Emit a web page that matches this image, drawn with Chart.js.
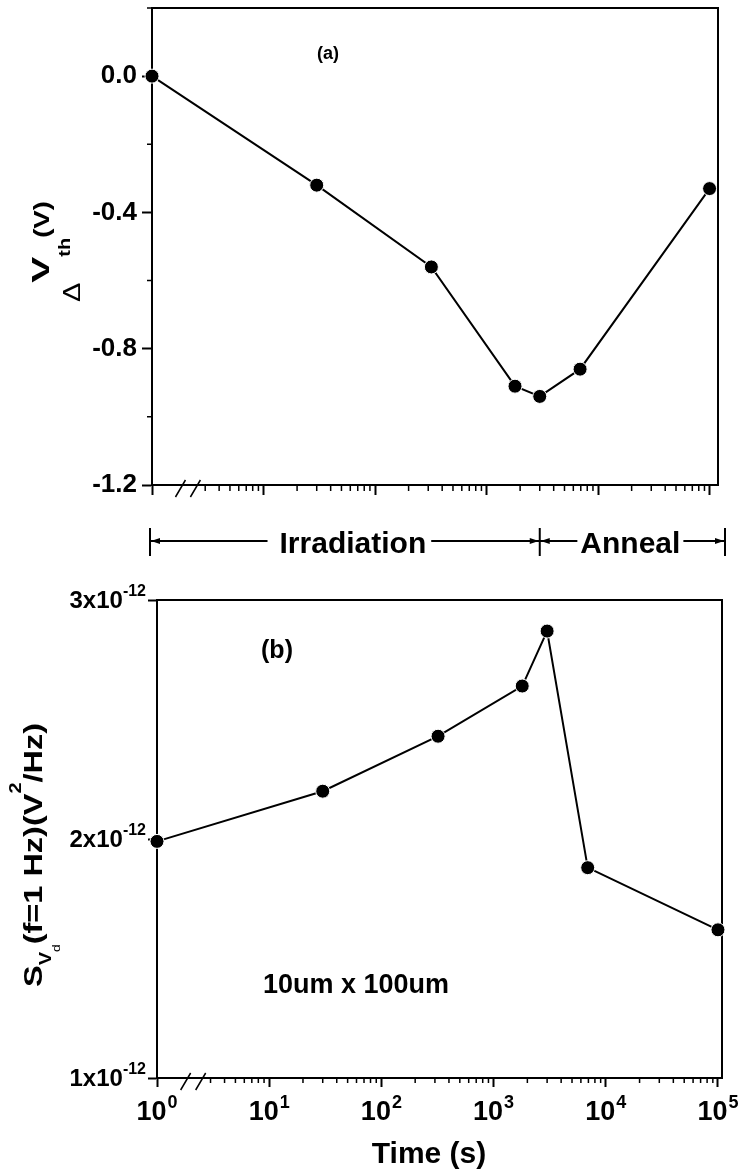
<!DOCTYPE html>
<html>
<head>
<meta charset="utf-8">
<script src="https://cdn.jsdelivr.net/npm/chart.js@4.4.1/dist/chart.umd.min.js"></script>
<style>
  html, body { margin: 0; padding: 0; background: #fff; }
  #wrap { position: relative; width: 739px; height: 1173px; }
  #top { position: absolute; left: 0; top: 0; }
  #bot { position: absolute; left: 0; top: 570px; }
</style>
</head>
<body>
<div id="wrap">
  <canvas id="top" width="739" height="570"></canvas>
  <canvas id="bot" width="739" height="603"></canvas>
</div>
<script>
// valores
const tiempos = [1, 30, 320, 1800, 3000, 6900, 100000];           // s
const deltaVth = [0.0, -0.32, -0.56, -0.91, -0.94, -0.86, -0.33];  // V
const ruido = [1.99e-12, 2.2e-12, 2.43e-12, 2.64e-12, 2.87e-12, 1.88e-12, 1.62e-12]; // V^2/Hz
const ticksX = [1, 10, 100, 1000, 10000, 100000];
const ticksVth = [-1.2, -0.8, -0.4, 0.0];
const menoresVth = [-1.0, -0.6, -0.2, 0.2];
const ticksRuido = [1e-12, 2e-12, 3e-12];

const F = '"Liberation Sans", Arial, sans-serif';
Chart.defaults.font.family = F;
Chart.defaults.color = '#000';

// texto girado 90 grados, sube desde yInicio
function textoVertical(ctx, yInicio, partes) {
    let y = yInicio;
    partes.forEach(p => {
        ctx.save();
        ctx.font = p.font;
        const w = ctx.measureText(p.t).width * p.s;
        ctx.translate(p.x, y);
        ctx.rotate(-Math.PI / 2);
        ctx.scale(p.s, 1);
        ctx.textAlign = 'left';
        ctx.textBaseline = 'alphabetic';
        ctx.fillStyle = '#000';
        ctx.fillText(p.t, 0, 0);
        ctx.restore();
        y -= w;
    });
}

function marco(ctx, a) {
    ctx.save();
    ctx.strokeStyle = '#000';
    ctx.lineWidth = 2;
    ctx.beginPath();
    ctx.moveTo(a.left, a.top);
    ctx.lineTo(a.right, a.top);
    ctx.lineTo(a.right, a.bottom);
    ctx.stroke();
    ctx.restore();
}

function menoresLog(ctx, sx, largo) {
    ctx.save();
    ctx.strokeStyle = '#000';
    ctx.lineWidth = 1.5;
    ctx.beginPath();
    for (let n = 0; n < 6; n++) {
        for (let k = 2; k < 10; k++) {
            const v = k * Math.pow(10, n);
            if (v < 2.5 || v > sx.max) continue;
            const x = sx.getPixelForValue(v);
            ctx.moveTo(x, sx.top);
            ctx.lineTo(x, sx.top + largo);
        }
    }
    ctx.stroke();
    // marcas de corte //
    ctx.beginPath();
    [1.8, 2.45].forEach(v => {
        const x = sx.getPixelForValue(v);
        ctx.moveTo(x - 5, sx.top + 12);
        ctx.lineTo(x + 5, sx.top - 5);
    });
    ctx.stroke();
    ctx.restore();
}

function flecha(ctx, x, y, dir) {
    ctx.beginPath();
    ctx.moveTo(x, y);
    ctx.lineTo(x - dir * 9, y - 3);
    ctx.lineTo(x - dir * 9, y + 3);
    ctx.closePath();
    ctx.fill();
}

const extrasArriba = {
    id: 'extrasArriba',
    beforeDatasetsDraw(chart) {
        const ctx = chart.ctx, a = chart.chartArea, sy = chart.scales.y;
        marco(ctx, a);
        menoresLog(ctx, chart.scales.x, 6);
        ctx.save();
        ctx.strokeStyle = '#000';
        ctx.lineWidth = 1.5;
        ctx.beginPath();
        menoresVth.forEach(v => {
            const y = sy.getPixelForValue(v);
            ctx.moveTo(a.left, y);
            ctx.lineTo(a.left - 5, y);
        });
        ctx.stroke();
        ctx.restore();
    },
    afterDraw(chart) {
        const ctx = chart.ctx, a = chart.chartArea, sx = chart.scales.x;
        ctx.save();
        ctx.fillStyle = '#000';
        ctx.font = 'bold 18px ' + F;
        ctx.textAlign = 'center';
        ctx.fillText('(a)', 328, 59);

        textoVertical(ctx, 302, [
            { t: '\u0394', font: '24px ' + F, x: 80, s: 1.2 },
            { t: 'V', font: 'bold 23px ' + F, x: 49, s: 1.7 },
            { t: 'th', font: 'bold 16px ' + F, x: 70, s: 1.25 },
            { t: '(V)', font: 'bold 22px ' + F, x: 49, s: 1.25 }
        ]);

        // Irradiation / Anneal
        const yl = 541;
        const xL = sx.getPixelForValue(1) - 2;
        const xM = sx.getPixelForValue(3000);
        const xR = a.right + 7;
        ctx.strokeStyle = '#000';
        ctx.lineWidth = 2;
        ctx.font = 'bold 30px ' + F;
        ctx.textBaseline = 'alphabetic';
        const w1 = ctx.measureText('Irradiation').width;
        const c1 = (xL + xM) / 2 + 8;
        const w2 = ctx.measureText('Anneal').width;
        const c2 = (xM + xR) / 2 - 2;
        ctx.fillText('Irradiation', c1, yl + 12);
        ctx.fillText('Anneal', c2, yl + 12);
        ctx.beginPath();
        ctx.moveTo(xL, yl); ctx.lineTo(c1 - w1 / 2 - 12, yl);
        ctx.moveTo(c1 + w1 / 2 + 5, yl); ctx.lineTo(xM, yl);
        ctx.moveTo(xM, yl); ctx.lineTo(c2 - w2 / 2 - 3, yl);
        ctx.moveTo(c2 + w2 / 2 + 3, yl); ctx.lineTo(xR, yl);
        [xL, xM, xR].forEach(x => { ctx.moveTo(x, yl - 13); ctx.lineTo(x, yl + 15); });
        ctx.stroke();
        flecha(ctx, xL + 1, yl, -1);
        flecha(ctx, xM - 1, yl, 1);
        flecha(ctx, xM + 1, yl, -1);
        flecha(ctx, xR - 1, yl, 1);
        ctx.restore();
    }
};

const extrasAbajo = {
    id: 'extrasAbajo',
    beforeDatasetsDraw(chart) {
        marco(chart.ctx, chart.chartArea);
        menoresLog(chart.ctx, chart.scales.x, 5);
    },
    afterDraw(chart) {
        const ctx = chart.ctx, a = chart.chartArea;
        const sx = chart.scales.x, sy = chart.scales.y;
        ctx.save();
        ctx.fillStyle = '#000';
        ctx.textBaseline = 'alphabetic';
        ctx.textAlign = 'left';
        // etiquetas eje x: 10^n
        ticksX.forEach(v => {
            const x = sx.getPixelForValue(v);
            const e = String(Math.round(Math.log10(v)));
            ctx.font = 'bold 27px ' + F;
            const wb = ctx.measureText('10').width;
            ctx.font = 'bold 18px ' + F;
            const we = ctx.measureText(e).width;
            const x0 = x - (wb + we + 1) / 2;
            ctx.font = 'bold 27px ' + F;
            ctx.fillText('10', x0, a.bottom + 42);
            ctx.font = 'bold 18px ' + F;
            ctx.fillText(e, x0 + wb + 1, a.bottom + 30);
        });
        // etiquetas eje y: Nx10^-12
        ticksRuido.forEach(v => {
            const y = sy.getPixelForValue(v);
            const m = String(Math.round(v / 1e-12)) + 'x10';
            ctx.font = 'bold 16px ' + F;
            const we = ctx.measureText('-12').width;
            const xr = a.left - 11;
            ctx.fillText('-12', xr - we, y - 4);
            ctx.font = 'bold 24px ' + F;
            const wm = ctx.measureText(m).width;
            ctx.fillText(m, xr - we - wm, y + 8);
        });
        ctx.textAlign = 'center';
        ctx.font = 'bold 25px ' + F;
        ctx.fillText('(b)', 277, 88);
        ctx.font = 'bold 30px ' + F;
        ctx.fillText('Time (s)', 429, 593);
        ctx.textAlign = 'left';
        ctx.font = 'bold 27px ' + F;
        ctx.fillText('10um x 100um', 263, 423);

        textoVertical(ctx, 417, [
            { t: 'S', font: 'bold 26px ' + F, x: 42, s: 1.25 },
            { t: 'V', font: 'bold 16px ' + F, x: 51, s: 1.25 },
            { t: 'd', font: '11px ' + F, x: 60, s: 1.25 },
            { t: '(f=1 Hz)(V', font: 'bold 26px ' + F, x: 42, s: 1.25 },
            { t: '2', font: 'bold 16px ' + F, x: 21, s: 1.25 },
            { t: '/Hz)', font: 'bold 26px ' + F, x: 42, s: 1.25 }
        ]);
        ctx.restore();
    }
};

const serie = (ys) => ({
    data: tiempos.map((t, i) => ({ x: t, y: ys[i] })),
    borderColor: '#000',
    borderWidth: 2,
    pointRadius: 7,
    pointBackgroundColor: '#000',
    pointBorderColor: '#fff',
    pointBorderWidth: 1,
    tension: 0,
    clip: false
});

const ejeX = (max, alto, largo) => ({
    type: 'logarithmic',
    min: 1,
    max: max,
    afterBuildTicks: s => { s.ticks = ticksX.map(v => ({ value: v })); },
    afterFit: s => { s.height = alto; s.paddingLeft = 0; s.paddingRight = 0; },
    ticks: { display: false },
    grid: { drawOnChartArea: false, tickLength: largo, tickWidth: 2, tickColor: '#000' },
    border: { color: '#000', width: 2 }
});

new Chart(document.getElementById('top'), {
    type: 'line',
    data: { datasets: [serie(deltaVth)] },
    options: {
        responsive: false,
        animation: false,
        layout: { padding: { top: 8, right: 21, left: 0, bottom: 0 } },
        plugins: { legend: { display: false }, tooltip: { enabled: false } },
        scales: {
            x: ejeX(1.19e5, 85, 10),
            y: {
                min: -1.2,
                max: 0.2,
                afterBuildTicks: s => { s.ticks = ticksVth.map(v => ({ value: v })); },
                afterFit: s => { s.width = 152; s.paddingTop = 0; s.paddingBottom = 0; },
                ticks: {
                    font: { size: 26, weight: 'bold' },
                    color: '#000',
                    padding: 5,
                    callback: v => Number(v).toFixed(1)
                },
                grid: { drawOnChartArea: false, tickLength: 10, tickWidth: 2, tickColor: '#000' },
                border: { color: '#000', width: 2 }
            }
        }
    },
    plugins: [extrasArriba]
});

new Chart(document.getElementById('bot'), {
    type: 'line',
    data: { datasets: [serie(ruido)] },
    options: {
        responsive: false,
        animation: false,
        layout: { padding: { top: 30, right: 17, left: 0, bottom: 0 } },
        plugins: { legend: { display: false }, tooltip: { enabled: false } },
        scales: {
            x: ejeX(1.086e5, 95, 9),
            y: {
                min: 1e-12,
                max: 3e-12,
                afterBuildTicks: s => { s.ticks = ticksRuido.map(v => ({ value: v })); },
                afterFit: s => { s.width = 157; s.paddingTop = 0; s.paddingBottom = 0; },
                ticks: { display: false },
                grid: { drawOnChartArea: false, tickLength: 9, tickWidth: 2, tickColor: '#000' },
                border: { color: '#000', width: 2 }
            }
        }
    },
    plugins: [extrasAbajo]
});
</script>
</body>
</html>
